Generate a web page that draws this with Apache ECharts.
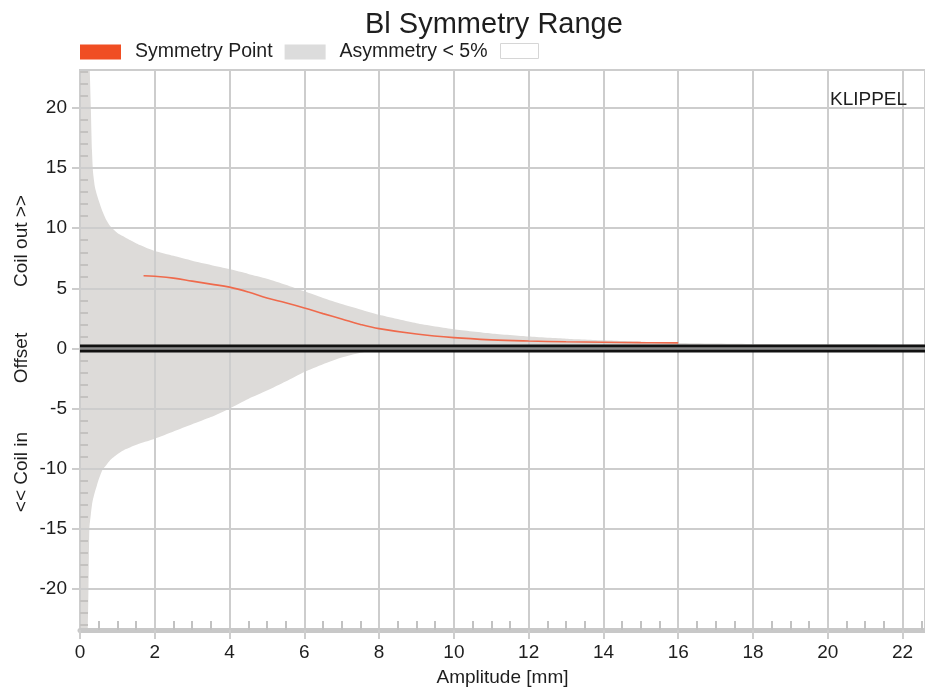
<!DOCTYPE html>
<html>
<head>
<meta charset="utf-8">
<script src="https://cdn.jsdelivr.net/npm/echarts@6/dist/echarts.min.js"></script>
<style>
  html, body { margin: 0; padding: 0; background: #ffffff; }
  #chart { width: 925px; height: 692px; }
</style>
</head>
<body>
<div id="chart"></div>
<script>
// Amplitude samples [mm] for the asymmetry < 5% range
const amplitude = [0, 0.2, 0.25, 0.29, 0.32, 0.35, 0.4, 0.45, 0.5, 0.6, 0.7, 0.8, 1.0, 1.2, 1.35, 1.6, 2.0, 2.5, 3.0, 3.5, 4.0, 4.5, 5.0, 5.5, 6.0, 6.5, 7.0, 7.5, 8.0, 9.0, 10, 11, 12, 13, 14, 15, 16, 18, 20, 22.6];
// Upper edge of the range ("coil out" side)
const upperBound = [30, 26, 24, 20, 16.5, 14.6, 13.4, 12.8, 12.3, 11.4, 10.7, 10.2, 9.6, 9.25, 9.0, 8.6, 8.1, 7.7, 7.3, 6.95, 6.6, 6.2, 5.8, 5.3, 4.75, 4.2, 3.7, 3.25, 2.8, 2.1, 1.6, 1.25, 1.0, 0.82, 0.68, 0.56, 0.46, 0.38, 0.35, 0.33];
// Lower edge of the range ("coil in" side)
const lowerBound = [-30, -24, -15, -13.8, -13.0, -12.5, -11.9, -11.4, -10.9, -10.1, -9.7, -9.3, -8.8, -8.4, -8.2, -7.9, -7.5, -6.9, -6.3, -5.7, -5.0, -4.2, -3.5, -2.75, -1.95, -1.3, -0.75, -0.35, -0.1, 0.05, 0.05, 0.05, 0.05, 0.05, 0.05, 0.05, 0.05, 0.05, 0.05, 0.05];

// Symmetry point curve
const symAmplitude = [1.7, 2.0, 2.5, 3.0, 3.5, 4.0, 4.5, 5.0, 5.5, 6.0, 6.5, 7.0, 7.5, 8.0, 9.0, 10, 11, 12, 13, 14, 15, 16];
const symOffset = [6.05, 6.0, 5.85, 5.6, 5.35, 5.1, 4.7, 4.2, 3.8, 3.37, 2.9, 2.45, 2.0, 1.65, 1.2, 0.9, 0.72, 0.62, 0.56, 0.52, 0.49, 0.47];

// Axis ranges and steps
const xRange = [0, 22.6];
const xStep = 2;
const yRange = [-23.4, 23.15];
// Offset reference line (zero offset across the full amplitude range)
const zeroOffset = 0;

const FONT = 'Liberation Sans, Arial, Helvetica, sans-serif';
const TEXT = '#1e1e1e';
const GRID = '#cdcdcd';
const BAND = '#dddbd9';

const zip = (xs, ys) => xs.map((x, i) => [x, ys[i]]);
const zeroLine = xRange.map(x => [x, zeroOffset]);

const chart = echarts.init(document.getElementById('chart'), null, { renderer: 'canvas' });

const option = {
  animation: false,
  backgroundColor: '#ffffff',
  title: {
    text: 'Bl Symmetry Range',
    left: 360,
    top: 5,
    textStyle: { fontSize: 29, fontWeight: 'normal', color: TEXT, fontFamily: FONT }
  },
  legend: {
    left: 80,
    top: 42,
    padding: 0,
    itemWidth: 41,
    itemHeight: 15,
    itemGap: 12,
    icon: 'rect',
    selectedMode: false,
    data: [
      { name: 'Symmetry Point', itemStyle: { color: '#f04e23' } },
      { name: 'Asymmetry < 5%', itemStyle: { color: '#dcdcdc' } }
    ],
    textStyle: { fontSize: 19.5, color: TEXT, fontFamily: FONT, padding: [0, 0, 0, 9] }
  },
  grid: {
    left: 80, right: 0, top: 70, bottom: 61,
    show: true, borderColor: GRID, borderWidth: 2
  },
  xAxis: [
    {
      type: 'value', min: xRange[0], max: xRange[1], interval: xStep,
      position: 'bottom', z: 3,
      axisLine: { show: true, onZero: false, lineStyle: { color: '#c8c8c8', width: 5 } },
      axisTick: { show: true, length: 9, lineStyle: { color: GRID, width: 2 } },
      axisLabel: { fontSize: 19, color: TEXT, fontFamily: FONT, margin: 13, showMaxLabel: false },
      splitLine: { show: true, lineStyle: { color: GRID, width: 2 } },
      name: 'Amplitude [mm]', nameLocation: 'middle', nameGap: 38,
      nameTextStyle: { fontSize: 19, color: TEXT, fontFamily: FONT }
    },
    {
      // inner minor ticks along the bottom edge
      type: 'value', min: xRange[0], max: xRange[1], interval: xStep,
      position: 'bottom', z: 3,
      axisLine: { show: false, onZero: false },
      axisLabel: { show: false },
      splitLine: { show: false },
      axisTick: { show: false, inside: true },
      minorTick: { show: true, splitNumber: 4, length: 9, lineStyle: { color: '#c2c2c2', width: 2 } }
    }
  ],
  yAxis: [
    {
      type: 'value', min: yRange[0], max: yRange[1], splitNumber: 9,
      position: 'left', z: 3,
      axisLine: { show: true, onZero: false, lineStyle: { color: GRID, width: 2 } },
      axisTick: { show: true, length: 8, lineStyle: { color: GRID, width: 2 } },
      axisLabel: { fontSize: 19, color: TEXT, fontFamily: FONT, margin: 13, showMinLabel: false, showMaxLabel: false },
      splitLine: { show: true, lineStyle: { color: GRID, width: 2 } }
    },
    {
      // inner minor ticks along the left edge
      type: 'value', min: yRange[0], max: yRange[1], splitNumber: 9,
      position: 'left', z: 3,
      axisLine: { show: false, onZero: false },
      axisLabel: { show: false },
      splitLine: { show: false },
      axisTick: { show: false, inside: true },
      minorTick: { show: true, splitNumber: 5, length: 8, lineStyle: { color: '#c4c2c0', width: 2 } }
    }
  ],
  series: [
    {
      name: 'Asymmetry < 5%', type: 'line', z: 1,
      data: zip(amplitude, upperBound),
      smooth: 0.2, symbol: 'none',
      lineStyle: { width: 0, opacity: 0 },
      itemStyle: { color: '#dcdcdc' },
      areaStyle: { color: BAND, opacity: 1 },
      silent: true
    },
    {
      name: 'Asymmetry < 5%', type: 'line', z: 1,
      data: zip(amplitude, lowerBound),
      smooth: 0.2, symbol: 'none',
      lineStyle: { width: 0, opacity: 0 },
      itemStyle: { color: '#dcdcdc' },
      areaStyle: { color: BAND, opacity: 1 },
      silent: true
    },
    {
      name: 'Offset zero', type: 'line', z: 6,
      data: zeroLine, symbol: 'none', silent: true,
      lineStyle: { color: '#111111', width: 8 }
    },
    {
      name: 'Offset zero core', type: 'line', z: 7,
      data: zeroLine, symbol: 'none', silent: true,
      lineStyle: { color: '#8c8c8c', width: 2.5 }
    },
    {
      name: 'Symmetry Point', type: 'line', z: 8,
      data: zip(symAmplitude, symOffset),
      smooth: 0.4, symbol: 'none',
      itemStyle: { color: '#f04e23' },
      lineStyle: { color: '#ef6a4c', width: 1.6 }
    }
  ],
  graphic: [
    {
      type: 'rect', left: 500, top: 43, z: 10,
      shape: { width: 38, height: 15 },
      style: { fill: '#ffffff', stroke: '#d6d6d6', lineWidth: 1 }
    },
    {
      type: 'text', x: 22, y: 241, rotation: Math.PI / 2, z: 10,
      style: { text: 'Coil out >>', fill: TEXT, font: '19px ' + FONT, textAlign: 'center', textVerticalAlign: 'middle', align: 'center', verticalAlign: 'middle' }
    },
    {
      type: 'text', x: 22, y: 358, rotation: Math.PI / 2, z: 10,
      style: { text: 'Offset', fill: TEXT, font: '19px ' + FONT, textAlign: 'center', textVerticalAlign: 'middle', align: 'center', verticalAlign: 'middle' }
    },
    {
      type: 'text', x: 22, y: 472, rotation: Math.PI / 2, z: 10,
      style: { text: '<< Coil in', fill: TEXT, font: '19px ' + FONT, textAlign: 'center', textVerticalAlign: 'middle', align: 'center', verticalAlign: 'middle' }
    },
    {
      type: 'text', x: 830, y: 100, z: 10,
      style: { text: 'KLIPPEL', fill: TEXT, font: '19px ' + FONT, textAlign: 'left', textVerticalAlign: 'middle', align: 'left', verticalAlign: 'middle' }
    }
  ]
};

chart.setOption(option);
</script>
</body>
</html>
